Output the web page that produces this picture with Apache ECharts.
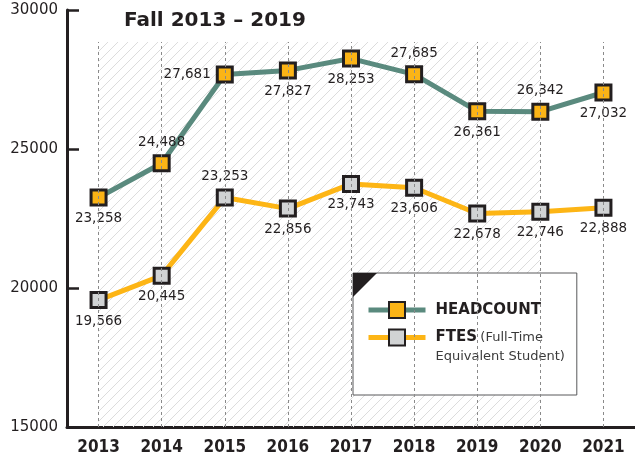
<!DOCTYPE html>
<html>
<head>
<meta charset="utf-8">
<script src="https://cdn.jsdelivr.net/npm/echarts@6/dist/echarts.min.js"></script>
<style>
  html, body { margin: 0; padding: 0; background: #fff; }
  #container { width: 635px; height: 463px; }
</style>
</head>
<body>
<div id="container"></div>
<script>
var years = ['2013', '2014', '2015', '2016', '2017', '2018', '2019', '2020', '2021'];
var headcount = [23258, 24488, 27681, 27827, 28253, 27685, 26361, 26342, 27032];
var ftes = [19566, 20445, 23253, 22856, 23743, 23606, 22678, 22746, 22888];
// where each value label sits relative to its marker
var headcountLabelPos = ['bottom', 'top', 'left', 'bottom', 'bottom', 'top', 'bottom', 'top', 'bottom'];
var ftesLabelPos = ['bottom', 'bottom', 'top', 'bottom', 'bottom', 'bottom', 'bottom', 'bottom', 'bottom'];
var yMin = 15000, yMax = 30000, yStep = 5000;

var ink = '#231f20';
var font = 'DejaVu Sans';

// diagonal hatch for the background
var hatch = document.createElement('canvas');
hatch.width = 10; hatch.height = 10;
var hc = hatch.getContext('2d');
hc.strokeStyle = '#dcdcdc';
hc.lineWidth = 1;
hc.beginPath();
hc.moveTo(0, 10); hc.lineTo(10, 0);
hc.moveTo(-1, 1); hc.lineTo(1, -1);
hc.moveTo(9, 11); hc.lineTo(11, 9);
hc.stroke();

function fmt(v) { return v.toLocaleString('en-US'); }

function withLabels(values, positions) {
    return values.map(function (v, i) {
        return { value: v, label: { position: positions[i] } };
    });
}

var hatchTop = 28850; // dashed lines / hatch stop a bit below the top
var gridLines = years.map(function (y) {
    return [{ xAxis: y, yAxis: yMin }, { xAxis: y, yAxis: hatchTop }];
});

var myChart = echarts.init(document.getElementById('container'));

var option = {
    animation: false,
    title: {
        text: 'Fall 2013 – 2019',
        left: 119,
        top: 6,
        textStyle: { fontFamily: font, fontWeight: 'bold', fontSize: 20, color: ink }
    },
    grid: { left: 67, right: 0, top: 10, bottom: 36 },
    xAxis: {
        type: 'category',
        data: years,
        boundaryGap: true,
        axisLine: { lineStyle: { color: ink, width: 3 } },
        axisTick: { alignWithLabel: true, inside: true, length: 8, lineStyle: { color: ink, width: 2.5 } },
        axisLabel: {
            margin: 12,
            fontFamily: "'Liberation Sans Narrow', 'DejaVu Sans Condensed', sans-serif",
            fontWeight: 'bold',
            fontSize: 17,
            color: ink
        },
        splitLine: { show: false }
    },
    yAxis: {
        type: 'value',
        min: yMin,
        max: yMax,
        interval: yStep,
        axisLine: { show: true, lineStyle: { color: ink, width: 3 } },
        axisTick: { show: true, inside: true, length: 12, lineStyle: { color: ink, width: 2.5 } },
        axisLabel: {
            margin: 9, fontFamily: font, fontSize: 15, color: ink,
            formatter: function (v) { return String(v); }
        },
        splitLine: { show: false }
    },
    legend: {
        orient: 'vertical',
        left: 353,
        top: 273,
        data: ['HEADCOUNT', 'FTES'],
        backgroundColor: '#fff',
        borderColor: '#58595b',
        borderWidth: 1,
        padding: [28, 12, 32, 13],
        itemWidth: 57,
        itemHeight: 20,
        itemGap: -7,
        lineStyle: { width: 5 },
        formatter: function (name) {
            if (name === 'FTES') return '{r| }\n{b|FTES} {r|(Full-Time}\n{r|Equivalent Student)}';
            return '{b|HEADCOUNT}';
        },
        textStyle: {
            color: ink,
            padding: [0, 0, 0, 5],
            rich: {
                b: { fontFamily: font, fontWeight: 'bold', fontSize: 15, color: ink, lineHeight: 19 },
                r: { fontFamily: font, fontSize: 13, color: '#3a3a3a', lineHeight: 19 }
            }
        }
    },
    graphic: [{
        type: 'polygon',
        z: 100,
        shape: { points: [[353, 273], [377, 273], [353, 297]] },
        style: { fill: ink }
    }],
    series: [
        {
            name: 'grid',
            type: 'line',
            data: [],
            z: 1,
            silent: true,
            markArea: {
                silent: true,
                itemStyle: { color: { image: hatch, repeat: 'repeat' } },
                data: [[{ xAxis: years[0], yAxis: yMin }, { xAxis: years[years.length - 2], yAxis: hatchTop }]]
            },
            markLine: {
                silent: true,
                symbol: 'none',
                label: { show: false },
                lineStyle: { color: '#8a8a8a', width: 1, type: [3, 3] },
                data: gridLines
            }
        },
        {
            name: 'HEADCOUNT',
            type: 'line',
            z: 3,
            data: withLabels(headcount, headcountLabelPos),
            symbol: 'rect',
            symbolSize: 15,
            lineStyle: { color: '#5a8a7e', width: 5 },
            itemStyle: { color: '#fbb416', borderColor: ink, borderWidth: 3 },
            label: {
                show: true,
                distance: 5,
                fontFamily: font,
                fontSize: 13.5,
                color: ink,
                formatter: function (p) { return fmt(p.value); }
            }
        },
        {
            name: 'FTES',
            type: 'line',
            z: 3,
            data: withLabels(ftes, ftesLabelPos),
            symbol: 'rect',
            symbolSize: 15,
            lineStyle: { color: '#fdb515', width: 5 },
            itemStyle: { color: '#d1d3d4', borderColor: ink, borderWidth: 3 },
            label: {
                show: true,
                distance: 5,
                fontFamily: font,
                fontSize: 13.5,
                color: ink,
                formatter: function (p) { return fmt(p.value); }
            }
        }
    ]
};

myChart.setOption(option);
</script>
</body>
</html>
